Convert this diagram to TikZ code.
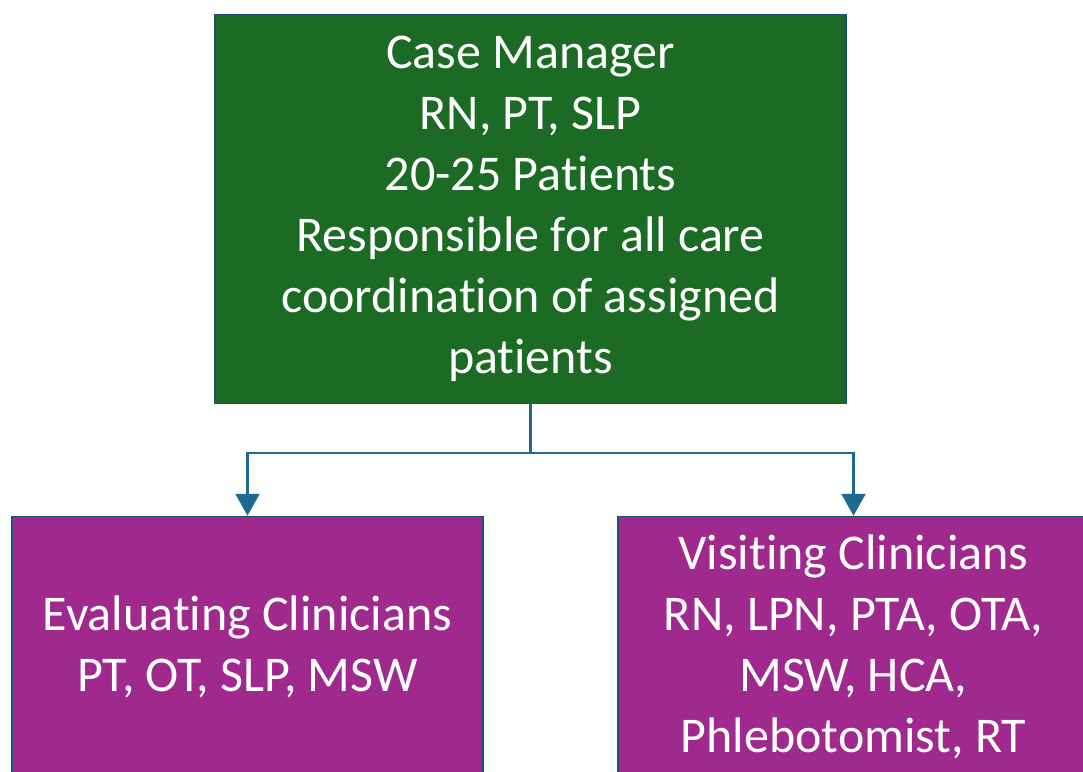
\documentclass[tikz,border=0pt]{standalone}
\usepackage{fontspec}
\setmainfont{Carlito}[Ligatures=NoCommon]
\usepackage{xcolor}
\usetikzlibrary{arrows.meta,positioning}

\definecolor{cmgreen}{HTML}{1C6B24}
\definecolor{clinpurple}{HTML}{A0298E}
\definecolor{boxedge}{HTML}{1F4E79}
\definecolor{linkblue}{HTML}{1F6991}

\begin{document}
\begin{tikzpicture}
        [x=1pt,y=1pt,
         box/.style={rectangle,draw=boxedge,line width=1.5pt,text=white,align=center,
                     inner sep=0pt,font=\fontsize{50}{61}\selectfont},
         link/.style={draw=linkblue,line width=2.2pt}]
        \useasboundingbox (0,0) rectangle (1083,-771);

        \node [box,fill=cmgreen,minimum width=631pt,minimum height=389pt,name=cm] at (530.5,-209)
              {Case Manager\\RN, PT, SLP\\20-25 Patients\\Responsible for all care\\coordination of assigned\\patients};
        \node [box,fill=clinpurple,minimum width=471pt,minimum height=260pt,name=eval,
               below=111.5pt of cm,xshift=-283pt]
              {Evaluating Clinicians\\PT, OT, SLP, MSW};
        \node [box,fill=clinpurple,minimum width=471pt,minimum height=260pt,name=visit,
               below=111.5pt of cm,xshift=323pt]
              {Visiting Clinicians\\RN, LPN, PTA, OTA,\\MSW, HCA,\\Phlebotomist, RT};

        \coordinate (split) at ([yshift=-49pt]cm.south);
        \path[link] (cm.south) -- (split);
        \path[link,-{Triangle[width=24pt,length=22pt]}] (split) -| (eval.north);
        \path[link,-{Triangle[width=24pt,length=22pt]}] (split) -| (visit.north);
    \end{tikzpicture}
\end{document}
